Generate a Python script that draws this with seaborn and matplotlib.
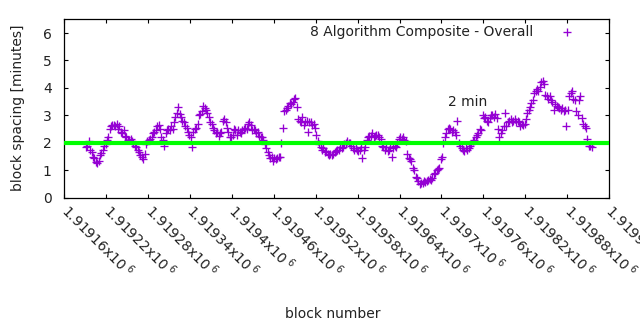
import matplotlib
matplotlib.use("Agg")
import matplotlib.pyplot as plt
import seaborn as sns
import pandas as pd

# Block heights (every other block) and the measured spacing in minutes
blocks = [
    1919191, 1919193, 1919195, 1919197, 1919199, 1919201, 1919203, 1919205, 1919207, 1919209,
    1919211, 1919213, 1919215, 1919217, 1919219, 1919221, 1919223, 1919225, 1919227, 1919229,
    1919231, 1919233, 1919235, 1919237, 1919239, 1919241, 1919243, 1919245, 1919247, 1919249,
    1919251, 1919253, 1919255, 1919257, 1919259, 1919261, 1919263, 1919265, 1919267, 1919269,
    1919271, 1919273, 1919275, 1919277, 1919279, 1919281, 1919283, 1919285, 1919287, 1919289,
    1919291, 1919293, 1919295, 1919297, 1919299, 1919301, 1919303, 1919305, 1919307, 1919309,
    1919311, 1919313, 1919315, 1919317, 1919319, 1919321, 1919323, 1919325, 1919327, 1919329,
    1919331, 1919333, 1919335, 1919337, 1919339, 1919341, 1919343, 1919345, 1919347, 1919349,
    1919351, 1919353, 1919355, 1919357, 1919359, 1919361, 1919363, 1919365, 1919367, 1919369,
    1919371, 1919373, 1919375, 1919377, 1919379, 1919381, 1919383, 1919385, 1919387, 1919389,
    1919391, 1919393, 1919395, 1919397, 1919399, 1919401, 1919403, 1919405, 1919407, 1919409,
    1919411, 1919413, 1919415, 1919417, 1919419, 1919421, 1919423, 1919425, 1919427, 1919429,
    1919431, 1919433, 1919435, 1919437, 1919439, 1919441, 1919443, 1919445, 1919447, 1919449,
    1919451, 1919453, 1919455, 1919457, 1919459, 1919461, 1919463, 1919465, 1919467, 1919469,
    1919471, 1919473, 1919475, 1919477, 1919479, 1919481, 1919483, 1919485, 1919487, 1919489,
    1919491, 1919493, 1919495, 1919497, 1919499, 1919501, 1919503, 1919505, 1919507, 1919509,
    1919511, 1919513, 1919515, 1919517, 1919519, 1919521, 1919523, 1919525, 1919527, 1919529,
    1919531, 1919533, 1919535, 1919537, 1919539, 1919541, 1919543, 1919545, 1919547, 1919549,
    1919551, 1919553, 1919555, 1919557, 1919559, 1919561, 1919563, 1919565, 1919567, 1919569,
    1919571, 1919573, 1919575, 1919577, 1919579, 1919581, 1919583, 1919585, 1919587, 1919589,
    1919591, 1919593, 1919595, 1919597, 1919599, 1919601, 1919603, 1919605, 1919607, 1919609,
    1919611, 1919613, 1919615, 1919617, 1919619, 1919621, 1919623, 1919625, 1919627, 1919629,
    1919631, 1919633, 1919635, 1919637, 1919639, 1919641, 1919643, 1919645, 1919647, 1919649,
    1919651, 1919653, 1919655, 1919657, 1919659, 1919661, 1919663, 1919665, 1919667, 1919669,
    1919671, 1919673, 1919675, 1919677, 1919679, 1919681, 1919683, 1919685, 1919687, 1919689,
    1919691, 1919693, 1919695, 1919697, 1919699, 1919701, 1919703, 1919705, 1919707, 1919709,
    1919711, 1919713, 1919715, 1919717, 1919719, 1919721, 1919723, 1919725, 1919727, 1919729,
    1919731, 1919733, 1919735, 1919737, 1919739, 1919741, 1919743, 1919745, 1919747, 1919749,
    1919751, 1919753, 1919755, 1919757, 1919759, 1919761, 1919763, 1919765, 1919767, 1919769,
    1919771, 1919773, 1919775, 1919777, 1919779, 1919781, 1919783, 1919785, 1919787, 1919789,
    1919791, 1919793, 1919795, 1919797, 1919799, 1919801, 1919803, 1919805, 1919807, 1919809,
    1919811, 1919813, 1919815, 1919817, 1919819, 1919821, 1919823, 1919825, 1919827, 1919829,
    1919831, 1919833, 1919835, 1919837, 1919839, 1919841, 1919843, 1919845, 1919847, 1919849,
    1919851, 1919853, 1919855, 1919857, 1919859, 1919861, 1919863, 1919865, 1919867, 1919869,
    1919871, 1919873, 1919875, 1919877, 1919879, 1919881, 1919883, 1919885, 1919887, 1919889,
    1919891, 1919893, 1919895, 1919897, 1919899, 1919901, 1919903, 1919905, 1919907, 1919909,
    1919911, 1919913, 1919915,
]

spacing = [
    1.85, 1.90, 2.05, 1.75, 1.65, 1.50, 1.45, 1.30, 1.28, 1.35,
    1.55, 1.62, 1.72, 1.90, 1.95, 2.10, 2.20, 2.50, 2.60, 2.65,
    2.65, 2.60, 2.70, 2.50, 2.60, 2.40, 2.35, 2.45, 2.25, 2.20,
    2.10, 2.10, 2.15, 2.05, 2.00, 1.90, 1.85, 1.75, 1.65, 1.55,
    1.50, 1.40, 1.60, 1.95, 2.05, 2.10, 2.15, 2.20, 2.35, 2.40,
    2.45, 2.60, 2.65, 2.50, 2.20, 2.10, 1.90, 2.35, 2.45, 2.50,
    2.45, 2.60, 2.50, 2.75, 2.95, 3.10, 3.30, 3.05, 2.95, 2.80,
    2.75, 2.60, 2.55, 2.40, 2.30, 2.20, 1.85, 2.40, 2.50, 2.55,
    2.70, 3.00, 3.05, 3.15, 3.35, 3.25, 3.20, 3.10, 2.95, 2.75,
    2.70, 2.55, 2.45, 2.35, 2.40, 2.25, 2.35, 2.40, 2.80, 2.85,
    2.75, 2.55, 2.40, 2.20, 2.20, 2.30, 2.50, 2.45, 2.30, 2.45,
    2.40, 2.35, 2.45, 2.50, 2.55, 2.50, 2.70, 2.75, 2.65, 2.45,
    2.50, 2.45, 2.35, 2.40, 2.25, 2.20, 2.20, 2.10, 1.95, 1.80,
    1.65, 1.55, 1.45, 1.50, 1.35, 1.45, 1.40, 1.45, 1.50, 1.50,
    2.00, 2.55, 3.15, 3.20, 3.25, 3.35, 3.45, 3.40, 3.50, 3.60,
    3.65, 3.30, 2.85, 2.80, 2.75, 2.95, 2.65, 2.75, 2.80, 2.40,
    2.75, 2.75, 2.65, 2.70, 2.55, 2.30, 2.05, 1.95, 1.85, 1.75,
    1.80, 1.65, 1.70, 1.60, 1.55, 1.60, 1.55, 1.60, 1.65, 1.70,
    1.75, 1.75, 1.85, 1.80, 1.85, 1.95, 2.00, 2.05, 2.00, 2.00,
    1.90, 1.80, 1.75, 1.80, 1.75, 1.70, 1.75, 1.85, 1.45, 1.75,
    1.85, 2.10, 2.20, 2.25, 2.25, 2.35, 2.20, 2.25, 2.30, 2.30,
    2.20, 2.15, 1.90, 1.85, 1.75, 1.85, 1.70, 1.75, 1.85, 1.50,
    1.80, 1.90, 1.85, 2.00, 2.15, 2.20, 2.15, 2.20, 2.10, 2.05,
    1.60, 1.45, 1.40, 1.35, 1.10, 1.00, 0.75, 0.70, 0.60, 0.50,
    0.55, 0.55, 0.60, 0.58, 0.60, 0.65, 0.68, 0.65, 0.72, 0.85,
    0.90, 1.00, 1.05, 1.10, 1.40, 1.50, 2.00, 2.20, 2.35, 2.50,
    2.55, 2.50, 2.40, 2.45, 2.40, 2.30, 2.80, 2.00, 1.90, 1.80,
    1.75, 1.70, 1.80, 1.75, 1.80, 1.90, 1.95, 2.05, 2.10, 2.20,
    2.30, 2.35, 2.50, 2.45, 3.00, 2.90, 2.95, 2.80, 2.75, 2.90,
    3.00, 3.00, 2.95, 3.05, 2.90, 2.50, 2.20, 2.35, 2.45, 2.60,
    3.10, 2.60, 2.75, 2.80, 2.85, 2.75, 2.80, 2.85, 2.75, 2.80,
    2.75, 2.60, 2.70, 2.65, 2.70, 2.85, 3.10, 3.20, 3.30, 3.45,
    3.55, 3.80, 3.90, 3.95, 3.90, 4.05, 4.20, 4.25, 4.15, 3.75,
    3.70, 3.60, 3.70, 3.55, 3.50, 3.20, 3.40, 3.35, 3.30, 3.25,
    3.20, 3.25, 3.15, 3.20, 2.60, 3.20, 3.70, 3.80, 3.90, 3.60,
    3.55, 3.15, 3.00, 3.55, 3.70, 2.90, 2.70, 2.60, 2.55, 2.15,
    1.90, 1.88, 1.85,
]

target_minutes = 2
series_label = "8 Algorithm Composite - Overall"
target_label = "2 min"
target_label_block = 1919709
target_label_value = 3.5

x_ticks = [1919160, 1919220, 1919280, 1919340, 1919400, 1919460, 1919520,
           1919580, 1919640, 1919700, 1919760, 1919820, 1919880, 1919940]
x_tick_labels = ["1.91916", "1.91922", "1.91928", "1.91934", "1.9194", "1.91946",
                 "1.91952", "1.91958", "1.91964", "1.9197", "1.91976", "1.91982",
                 "1.91988", "1.91994"]
y_ticks = [0, 1, 2, 3, 4, 5, 6]

sns.set_theme(style="ticks")
plt.rcParams["font.family"] = ["DejaVu Sans"]
plt.rcParams["mathtext.fontset"] = "dejavusans"

df = pd.DataFrame({"block": blocks, "spacing": spacing})

fig = plt.figure(figsize=(6.4, 3.3), dpi=100)
fig.patch.set_facecolor("white")
ax = fig.add_axes([64.3 / 640, 1 - 197.7 / 330, (609 - 64.3) / 640, (197.7 - 19.3) / 330])
ax.set_facecolor("white")

sns.scatterplot(data=df, x="block", y="spacing", marker="+", color="#9400d3",
                s=40, linewidth=0.95, label=series_label, ax=ax, zorder=2)
ax.axhline(target_minutes, color="#00ff00", lw=3.0, zorder=3)

ax.text(target_label_block, target_label_value, target_label, fontsize=10,
        ha="left", va="center", color="#222222", zorder=4)

ax.set_xlim(x_ticks[0], x_ticks[-1])
ax.set_ylim(0, 6.5)
ax.set_xticks(x_ticks)
ax.set_xticklabels([t + r"x10$^{\ 6}$" for t in x_tick_labels], rotation=-45,
                   ha="left", va="center", rotation_mode="anchor", fontsize=10)
ax.set_yticks(y_ticks)
ax.set_yticklabels([str(v) for v in y_ticks], fontsize=10)

ax.tick_params(axis="both", direction="in", length=3.2, width=0.8, color="black",
               top=True, right=True, labelcolor="#222222")
ax.tick_params(axis="x", pad=7)
ax.tick_params(axis="y", pad=9)
for sp in ax.spines.values():
    sp.set_visible(True)
    sp.set_color("black")
    sp.set_linewidth(0.9)

ax.set_xlabel("block number", fontsize=10, color="#222222")
ax.set_ylabel("block spacing [minutes]", fontsize=10, color="#222222")
ax.xaxis.set_label_coords(0.493, -0.615)
ax.yaxis.set_label_coords(-0.072, 0.503)

leg = ax.legend(loc="center right", bbox_to_anchor=(0.961, 0.929), frameon=False,
                markerfirst=False, fontsize=10, handlelength=3.0, handletextpad=0.95,
                borderpad=0, borderaxespad=0, scatterpoints=1)
for t in leg.get_texts():
    t.set_color("#222222")

fig.savefig("out.png", dpi=100, facecolor="white")
